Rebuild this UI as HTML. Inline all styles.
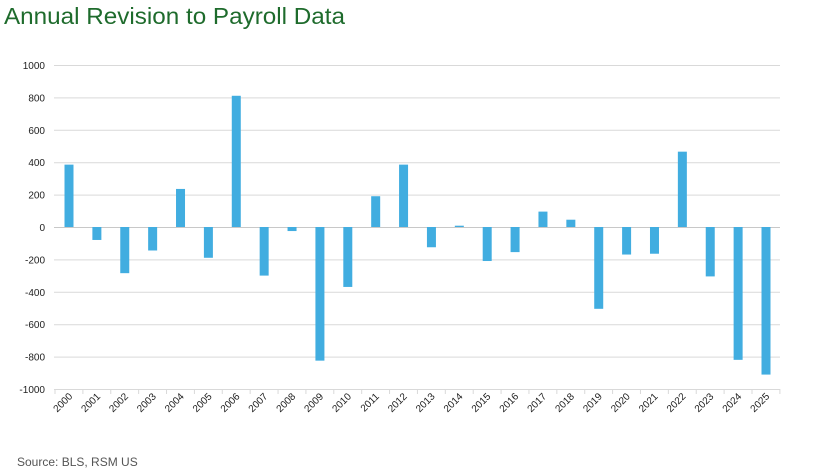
<!DOCTYPE html>
<html><head><meta charset="utf-8"><style>
body{margin:0;background:#fff;width:825px;height:469px;overflow:hidden;font-family:"Liberation Sans",sans-serif}
</style></head><body>
<svg width="825" height="469" xmlns="http://www.w3.org/2000/svg" font-family="Liberation Sans, sans-serif">
<text x="4" y="24" font-size="23" fill="#1e6b2c" textLength="341" lengthAdjust="spacingAndGlyphs">Annual Revision to Payroll Data</text>
<g id="grid" stroke="#d9d9d9" stroke-width="1"></g>
<g id="bars" fill="#41ade0"></g>
<g id="lab" font-size="10" fill="#222"></g>
<text x="17" y="466" font-size="12" fill="#555">Source: BLS, RSM US</text>
<script>
var ns="http://www.w3.org/2000/svg";
function el(t,a,p){var e=document.createElementNS(ns,t);for(var k in a)e.setAttribute(k,a[k]);p.appendChild(e);return e;}
var g=document.getElementById('grid'),b=document.getElementById('bars'),l=document.getElementById('lab');
function Y(v){return 227-0.162*v;}
for(var v=-1000;v<=1000;v+=200){
 el('line',{x1:54,x2:780,y1:Y(v)+0.5,y2:Y(v)+0.5,stroke:v==0?'#c8c8c8':'#d9d9d9'},g);
 var t=el('text',{x:45,y:Y(v)+4,'text-anchor':'end'},l);t.textContent=v;
}
var vals=[385,-80,-285,-145,235,-190,810,-300,-25,-825,-370,190,385,-125,8,-210,-155,95,45,-505,-170,-165,465,-305,-820,-911];
var w=27.88;
for(var i=0;i<=26;i++){var x=55+w*i;el('line',{x1:x,x2:x,y1:389,y2:394},g);}
vals.forEach(function(v,i){
 var cx=69+w*i;
 var y0=Y(Math.max(v,0)),y1=Y(Math.min(v,0));
 el('rect',{x:cx-4.5,y:y0,width:9,height:Math.max(1,y1-y0)},b);
 var t=el('text',{x:cx+4,y:397,'text-anchor':'end',transform:'rotate(-45 '+(cx+4)+' 397)'},l);t.textContent=2000+i;
});
</script>
</svg>
</body></html>
